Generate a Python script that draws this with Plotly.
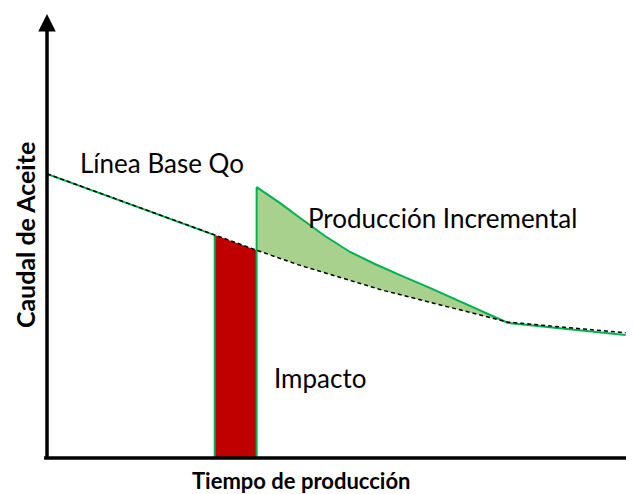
import plotly.graph_objects as go

# --- data (arbitrary units) ---
base_t = [0, 4, 5, 6, 8, 11, 13.8]
base_q = [6.40, 5.02, 4.68, 4.35, 3.78, 3.06, 2.82]

inc_t = [5, 5.56, 6.03, 6.63, 7.23, 7.82, 8.42, 9.13, 11]
inc_q = [6.10, 5.74, 5.41, 5.00, 4.64, 4.37, 4.12, 3.83, 3.04]

tail_t = [11, 13.8]
tail_q = [3.04, 2.77]

impact_start, impact_end = 4, 5

labels = ["Línea Base Qo", "Producción Incremental", "Impacto"]
label_t = [0.75, 6.17, 5.37]
label_q = [6.64, 5.41, 1.80]

x_title = "Tiempo de producción"
y_title = "Caudal de Aceite"

GREEN = "#00B050"
GREEN_FILL = "#A9D18E"
RED = "#C00000"
FONT = "Lato"

i0 = base_t.index(impact_start)
i1 = base_t.index(impact_end)
i_end = base_t.index(inc_t[-1])

fig = go.Figure()

# incremental production area (between green curve and baseline)
fx = inc_t + base_t[i1:i_end + 1][::-1]
fy = inc_q + base_q[i1:i_end + 1][::-1]
fig.add_trace(go.Scatter(x=fx, y=fy, fill="toself", fillcolor=GREEN_FILL,
                         line=dict(width=0), mode="lines", hoverinfo="skip"))

# impact (red) area
rx = [impact_start] + base_t[i0:i1 + 1] + [impact_end]
ry = [0] + base_q[i0:i1 + 1] + [0]
fig.add_trace(go.Scatter(x=rx, y=ry, fill="toself", fillcolor=RED,
                         line=dict(width=0), mode="lines", hoverinfo="skip"))

# actual production (green line)
gx = base_t[:i0 + 1] + [impact_start, impact_end] + inc_t + tail_t[1:]
gy = base_q[:i0 + 1] + [0, 0] + inc_q + tail_q[1:]
fig.add_trace(go.Scatter(x=gx, y=gy, mode="lines",
                         line=dict(color=GREEN, width=2), hoverinfo="skip"))

# baseline (dashed)
fig.add_trace(go.Scatter(x=base_t, y=base_q, mode="lines",
                         line=dict(color="black", width=1.5, dash="4px,3px"),
                         hoverinfo="skip"))

# text labels
for txt, t, q in zip(labels, label_t, label_q):
    fig.add_annotation(x=t, y=q, text=txt, showarrow=False, xanchor="left",
                       yanchor="middle", font=dict(family=FONT, size=26, color="black"))

# y axis arrow
fig.add_annotation(x=0, y=1.0, ax=0, ay=446, xref="paper", yref="paper", axref="pixel", ayref="pixel",
                   text="", showarrow=True, arrowhead=2, arrowsize=1, arrowwidth=3.5,
                   arrowcolor="black")
# x axis line + arrow head (head runs off the right edge, as in the reference)
fig.add_shape(type="line", xref="paper", yref="paper", x0=-0.005, x1=1.0, y0=0, y1=0,
              line=dict(color="black", width=3.5))
fig.add_shape(type="path", xref="paper", yref="paper",
              path="M 0.997 0.0145 L 1.02 0 L 0.997 -0.0145 Z",
              fillcolor="black", line=dict(color="black", width=1))

# axis titles
fig.add_annotation(x=0.433, y=0, xref="paper", yref="paper", yshift=-22, text=f"<b>{x_title}</b>",
                   showarrow=False, xanchor="center", yanchor="middle",
                   font=dict(family=FONT, size=22, color="black"))
fig.add_annotation(x=0, y=0.502, xref="paper", yref="paper", xshift=-22, text=f"<b>{y_title}</b>",
                   showarrow=False, xanchor="center", yanchor="middle", textangle=-90,
                   font=dict(family=FONT, size=25, color="black"))

# page body adds an 8px offset; compensate so the plot sits where the reference has it
fig.update_layout(
    width=626, height=486,
    margin=dict(l=39, r=0, t=6, b=36),
    paper_bgcolor="white", plot_bgcolor="white",
    showlegend=False,
    xaxis=dict(range=[0, 14], visible=False, fixedrange=True),
    yaxis=dict(range=[0, 10], visible=False, fixedrange=True),
)

fig.write_html("out.html")
